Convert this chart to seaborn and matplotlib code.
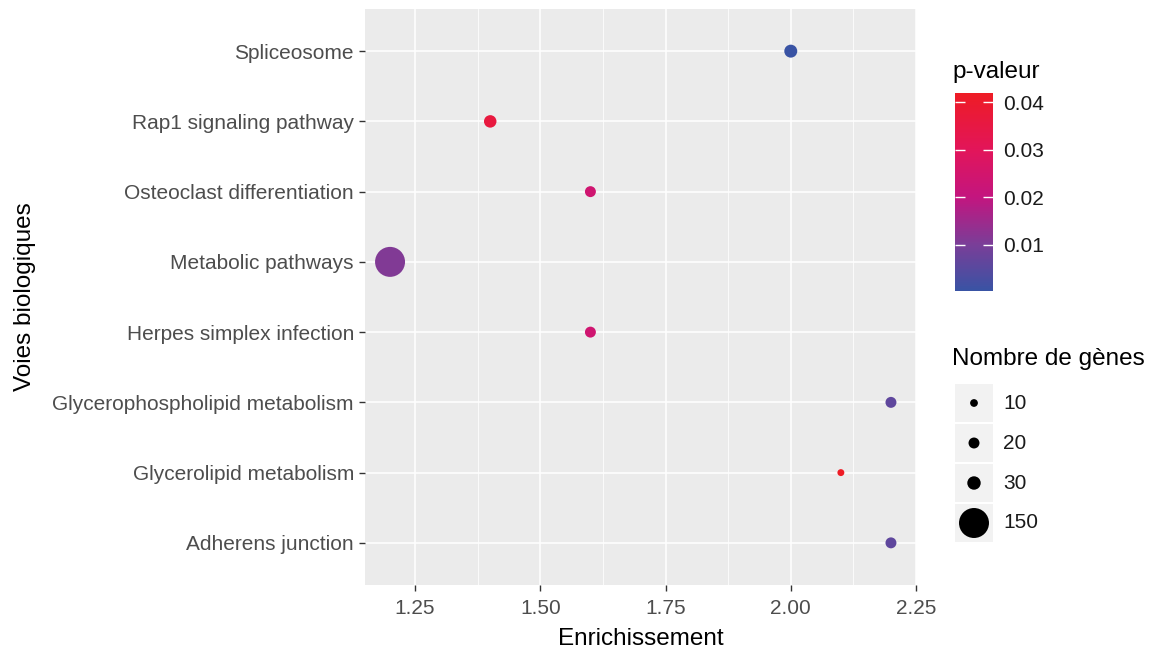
import matplotlib
matplotlib.use('Agg')
import matplotlib.pyplot as plt
import pandas as pd
import seaborn as sns
from matplotlib.colors import LinearSegmentedColormap, Normalize
from matplotlib.cm import ScalarMappable
from matplotlib.patches import Rectangle

pathways = ['Spliceosome', 'Rap1 signaling pathway', 'Osteoclast differentiation',
            'Metabolic pathways', 'Herpes simplex infection',
            'Glycerophospholipid metabolism', 'Glycerolipid metabolism',
            'Adherens junction']
enrichment = [2.0, 1.4, 1.6, 1.2, 1.6, 2.2, 2.1, 2.2]
p_values = [0.0002, 0.036, 0.024, 0.011, 0.024, 0.006, 0.042, 0.006]
gene_counts = [28, 26, 20, 150, 20, 20, 8, 20]
size_breaks = [10, 20, 30, 150]
colour_ticks = [0.01, 0.02, 0.03, 0.04]

# gradient colours
grad_p = [0.0002, 0.01, 0.02, 0.03, 0.042]
grad_colours = ['#3953A4', '#7A3E98', '#C3157F', '#E2155A', '#EE1C25']

SIZES = (25, 466)
TEXT_GREY = '#4D4D4D'
TICK_FS = 15
TITLE_FS = 17.5

df = pd.DataFrame({'pathway': pathways, 'enrichment': enrichment,
                   'p': p_values, 'genes': gene_counts})

plt.rcParams['font.family'] = ['Liberation Sans', 'DejaVu Sans']

norm = Normalize(vmin=min(p_values), vmax=max(p_values))
cmap = LinearSegmentedColormap.from_list(
    'pval', [(float(norm(p)), c) for p, c in zip(grad_p, grad_colours)])
size_norm = (min(gene_counts), max(gene_counts))

fig = plt.figure(figsize=(11.6, 6.53), dpi=100)
ax = fig.add_axes([365 / 1160, 1 - 585 / 653, 551 / 1160, 576 / 653])
ax.set_facecolor('#EBEBEB')

sns.scatterplot(data=df, x='enrichment', y='pathway', hue='p', size='genes',
                palette=cmap, hue_norm=norm, sizes=SIZES, size_norm=size_norm,
                linewidth=0, legend=False, ax=ax, zorder=3)

ax.set_xlim(1.15, 2.25)
ax.set_ylim(len(pathways) - 0.4, -0.6)
ax.set_xticks([1.25, 1.5, 1.75, 2.0, 2.25])
ax.set_xticklabels(['1.25', '1.50', '1.75', '2.00', '2.25'])
ax.set_xticks([1.375, 1.625, 1.875, 2.125], minor=True)
ax.grid(True, which='major', color='white', linewidth=1.1, zorder=0)
ax.grid(True, which='minor', axis='x', color='white', linewidth=0.55, zorder=0)
ax.set_axisbelow(True)
for s in ax.spines.values():
    s.set_visible(False)
ax.tick_params(axis='both', which='major', length=4, width=1, color='#333333',
               labelsize=TICK_FS, labelcolor=TEXT_GREY)
ax.tick_params(axis='x', which='major', pad=6)
ax.tick_params(axis='y', which='major', pad=4)
ax.tick_params(axis='both', which='minor', length=0)
ax.set_xlabel('Enrichissement', fontsize=TITLE_FS, color='black', labelpad=7)
ax.set_ylabel('Voies biologiques', fontsize=TITLE_FS, color='black', labelpad=12)

# colour bar
cax = fig.add_axes([955 / 1160, 1 - 291 / 653, 38 / 1160, 198 / 653])
cb = fig.colorbar(ScalarMappable(norm=norm, cmap=cmap), cax=cax, ticks=colour_ticks)
cb.outline.set_visible(False)
cax.yaxis.set_ticks_position('both')
cax.tick_params(axis='y', direction='in', length=7, width=1, color='white',
                labelsize=TICK_FS, labelcolor='#1A1A1A', pad=7)
cax.yaxis.set_tick_params(labelleft=False, labelright=True)
cax.set_yticklabels([f'{t:.2f}' for t in colour_ticks])
fig.text(952 / 1160, 1 - 72 / 653, 'p-valeur', fontsize=TITLE_FS, va='center', ha='left')

# size legend
lax = fig.add_axes([955 / 1160, 1 - 543 / 653, 38 / 1160, 160 / 653])
lax.axis('off')
for i, v in enumerate(size_breaks):
    lax.add_patch(Rectangle((0, i - 0.5 + 0.02), 1, 0.96, facecolor='#F2F2F2',
                            edgecolor='none', zorder=0))
    lax.text(1.27, i, str(v), fontsize=TICK_FS, color='#1A1A1A', va='center', ha='left')
sns.scatterplot(x=[0.5] * len(size_breaks), y=list(range(len(size_breaks))),
                size=size_breaks, sizes=SIZES, size_norm=size_norm,
                color='black', linewidth=0, legend=False, ax=lax, zorder=3)
lax.set_xlim(0, 1)
lax.set_ylim(len(size_breaks) - 0.5, -0.5)
fig.text(952 / 1160, 1 - 359 / 653, 'Nombre de gènes', fontsize=TITLE_FS,
         va='center', ha='left')

fig.savefig('out.png', dpi=100)
